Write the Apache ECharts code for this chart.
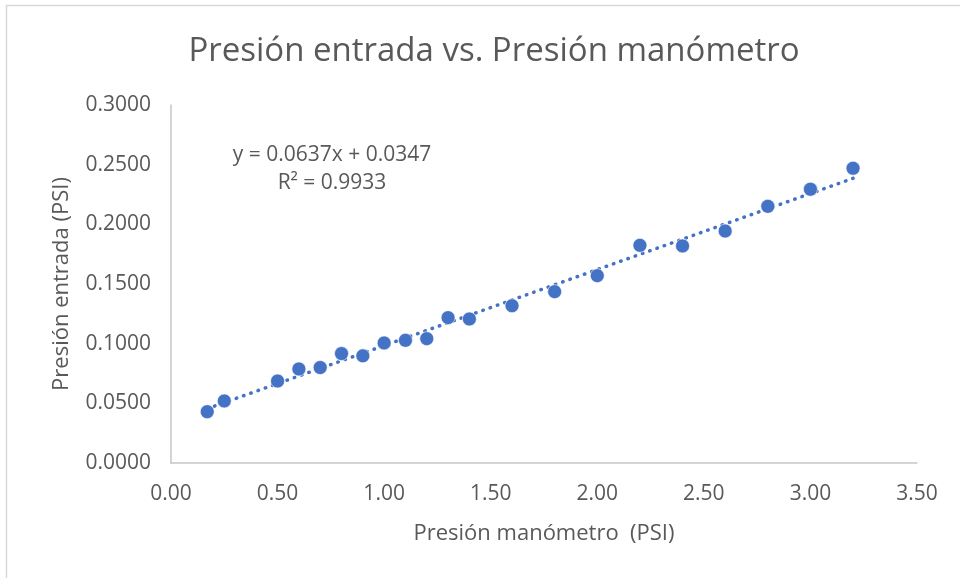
<!DOCTYPE html>
<html>
<head>
<meta charset="utf-8">
<script src="https://cdn.jsdelivr.net/npm/echarts@6/dist/echarts.min.js"></script>
<style>
html,body{margin:0;padding:0;background:#fff;}
#chart{width:960px;height:578px;}
</style>
</head>
<body>
<div id="chart"></div>
<script>
// Data
var presionManometro = [0.17, 0.25, 0.5, 0.6, 0.7, 0.8, 0.9, 1.0, 1.1, 1.2, 1.3, 1.4, 1.6, 1.8, 2.0, 2.2, 2.4, 2.6, 2.8, 3.0, 3.2];
var presionEntrada   = [0.0430, 0.0520, 0.0687, 0.0788, 0.0800, 0.0917, 0.0898, 0.1006, 0.1028, 0.1042, 0.1218, 0.1207, 0.1318, 0.1436, 0.1570, 0.1824, 0.1819, 0.1944, 0.2151, 0.2294, 0.2470];
var trendSlope = 0.0637;
var trendIntercept = 0.0347;
var rSquared = 0.9933;
var titleText = 'Presión entrada vs. Presión manómetro';
var xAxisName = 'Presión manómetro  (PSI)';
var yAxisName = 'Presión entrada (PSI)';

var points = presionManometro.map(function (x, i) { return [x, presionEntrada[i]]; });
var xMin = Math.min.apply(null, presionManometro);
var xMax = Math.max.apply(null, presionManometro);
var trend = [[xMin, trendSlope * xMin + trendIntercept], [xMax, trendSlope * xMax + trendIntercept]];

var FONT = '"Open Sans", "Noto Sans", sans-serif';
var GREY = '#595959';
var BLUE = '#4472C4';

var chart = echarts.init(document.getElementById('chart'), null, {renderer: 'canvas'});
chart.setOption({
  animation: false,
  backgroundColor: '#fff',
  title: {
    text: titleText,
    left: 489, top: 47,
    textAlign: 'center', textVerticalAlign: 'middle',
    textStyle: {fontFamily: FONT, fontSize: 33, fontWeight: 'normal', color: GREY}
  },
  graphic: [
    {type: 'rect', shape: {x: 6.5, y: 5.5, width: 1000, height: 1000}, style: {fill: 'none', stroke: '#d9d9d9', lineWidth: 1.5}, silent: true},
    {type: 'text', x: 332, y: 155, style: {text: 'y = ' + trendSlope.toFixed(4) + 'x + ' + trendIntercept.toFixed(4), textAlign: 'center', textVerticalAlign: 'middle', font: '21px ' + FONT, fill: GREY}},
    {type: 'text', x: 332, y: 183, style: {text: 'R² = ' + rSquared.toFixed(4), textAlign: 'center', textVerticalAlign: 'middle', font: '21px ' + FONT, fill: GREY}}
  ],
  grid: {left: 171, right: 43, top: 105, bottom: 115, containLabel: false},
  xAxis: {
    type: 'value', min: 0, max: 3.5, interval: 0.5,
    name: xAxisName, nameLocation: 'middle', nameGap: 60,
    nameTextStyle: {fontFamily: FONT, fontSize: 22, color: GREY},
    axisLine: {show: true, lineStyle: {color: '#c6c6c6', width: 1.5}},
    axisTick: {show: false},
    splitLine: {show: false},
    axisLabel: {fontFamily: FONT, fontSize: 21, color: GREY, margin: 21, formatter: function (v) { return v.toFixed(2); }}
  },
  yAxis: {
    type: 'value', min: 0, max: 0.3, interval: 0.05,
    name: yAxisName, nameLocation: 'middle', nameGap: 98, nameRotate: 90,
    nameTextStyle: {fontFamily: FONT, fontSize: 22, color: GREY},
    axisLine: {show: true, lineStyle: {color: '#c6c6c6', width: 1.5}},
    axisTick: {show: false},
    splitLine: {show: false},
    axisLabel: {fontFamily: FONT, fontSize: 21, color: GREY, margin: 20, formatter: function (v) { return v.toFixed(4); }}
  },
  series: [
    {
      type: 'line', data: trend, symbol: 'none', silent: true, z: 1,
      lineStyle: {color: BLUE, width: 3.5, type: [0.5, 7.2], cap: 'round'}
    },
    {
      type: 'scatter', data: points, symbol: 'circle', symbolSize: 14, z: 2,
      itemStyle: {color: BLUE, borderColor: '#ffffff', borderWidth: 0.6, opacity: 1}
    }
  ]
});
</script>
</body>
</html>
